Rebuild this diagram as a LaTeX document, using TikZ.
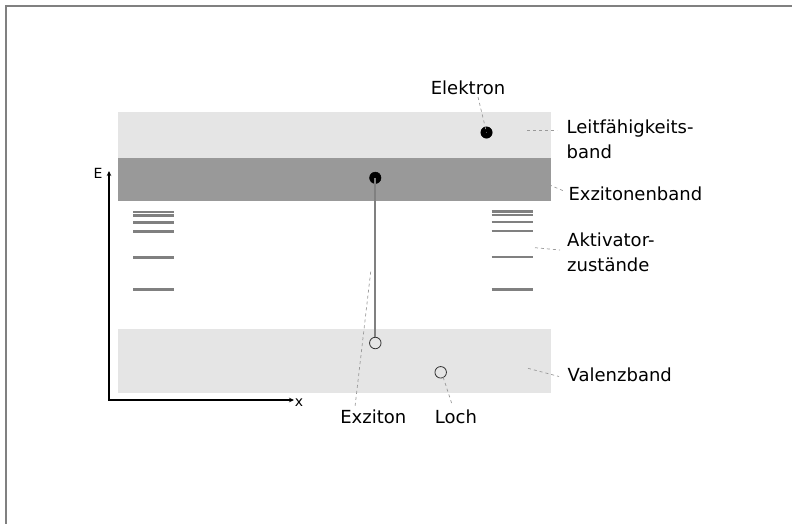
\documentclass[tikz,border=0pt]{standalone}
\usepackage{fontspec}
\setmainfont{DejaVu Sans}
\usetikzlibrary{arrows.meta}
\definecolor{bandlight}{HTML}{E5E5E5}
\definecolor{banddark}{HTML}{999999}
\definecolor{levelgray}{HTML}{808080}
\definecolor{leadgray}{HTML}{999999}
\begin{document}
\begin{tikzpicture}[x=1pt,y=-1pt,
  lbl/.style={font=\fontsize{18}{25}\selectfont, inner sep=0pt},
  axlbl/.style={font=\fontsize{14}{16}\selectfont, inner sep=0pt},
  level/.style={draw=levelgray, line width=2.1pt},
  leader/.style={draw=leadgray, dash pattern=on 3pt off 3pt, line width=0.7pt},
  filleddot/.style={circle, fill=black, draw=black, minimum size=11.5pt, inner sep=0pt},
  opendot/.style={circle, draw=black!80, line width=0.8pt, minimum size=11.5pt, inner sep=0pt},
  axis/.style={draw=black, line width=1.8pt, {Stealth[length=5pt,width=4.5pt]}-{Stealth[length=5pt,width=4.5pt]}},
  frameline/.style={draw=levelgray, line width=1.6pt}]
\useasboundingbox (0,0) rectangle (792,523);
% frame
\draw[frameline] (6,530) -- (6,6) -- (800,6);
% bands
\fill[bandlight] (118,112) rectangle (551,158);
\fill[banddark] (118,158) rectangle (551,201);
\fill[bandlight] (118,329) rectangle (551,393);
% activator levels, left
\foreach \yy in {212,215.5,222.5,231.5,257.5,289.5}
  \draw[level] (133,\yy) -- (174,\yy);
% activator levels, right
\foreach \yy in {211.5,215,222,231,257,289.5}
  \draw[level] (491.5,\yy) -- (532.5,\yy);
% axes
\coordinate (ytip) at (109,171);
\coordinate (orig) at (109,400);
\coordinate (xtip) at (294,400);
\draw[axis] (ytip) -- (orig) -- (xtip);
\node[axlbl] (elab) at (98,173.5) {E};
\node[axlbl, anchor=base] (xlab) at (299,406.5) {x};
% particles
\node[filleddot] (el) at (486.5,132.5) {};
\node[filleddot] (exel) at (375.3,177.8) {};
\node[opendot] (exho) at (375.3,343) {};
\node[opendot] (ho) at (440.7,372.3) {};
\draw[draw=levelgray, line width=2pt] (exel.center) -- (exho.north);
% labels
\node[lbl, anchor=base] (elektron) at (468,94) {Elektron};
\node[lbl, anchor=base west] (lband) at (566.5,133.3) {\begin{tabular}[t]{@{}l@{}}Leitfähigkeits-\\band\end{tabular}};
\node[lbl, anchor=base west] (xband) at (568.3,200) {Exzitonenband};
\node[lbl, anchor=base west] (akt) at (567,246.7) {\begin{tabular}[t]{@{}l@{}}Aktivator-\\zustände\end{tabular}};
\node[lbl, anchor=base west] (vband) at (567.5,381.7) {Valenzband};
\node[lbl, anchor=base] (exziton) at (373.3,423.3) {Exziton};
\node[lbl, anchor=base] (loch) at (456,423.3) {Loch};
% leader lines
\coordinate (elA) at (478,97);
\draw[leader] (elA) -- (el.center);
\coordinate (lbA) at (527,130.3);
\coordinate (lbB) at (557,130.3);
\draw[leader] (lbA) -- (lbB);
\coordinate (xbA) at (538,180);
\coordinate (xbB) at (565,191.5);
\draw[leader] (xbA) -- (xbB);
\coordinate (akA) at (535,247.7);
\coordinate (akB) at (560,250);
\draw[leader] (akA) -- (akB);
\coordinate (vbA) at (528,368.3);
\coordinate (vbB) at (559,376.5);
\draw[leader] (vbA) -- (vbB);
\coordinate (exA) at (370.7,271.7);
\coordinate (exB) at (355,406.7);
\draw[leader] (exA) -- (exB);
\coordinate (loB) at (451.7,403.3);
\draw[leader] (ho.center) ++(2.5,5) -- (loB);
\end{tikzpicture}
\end{document}
